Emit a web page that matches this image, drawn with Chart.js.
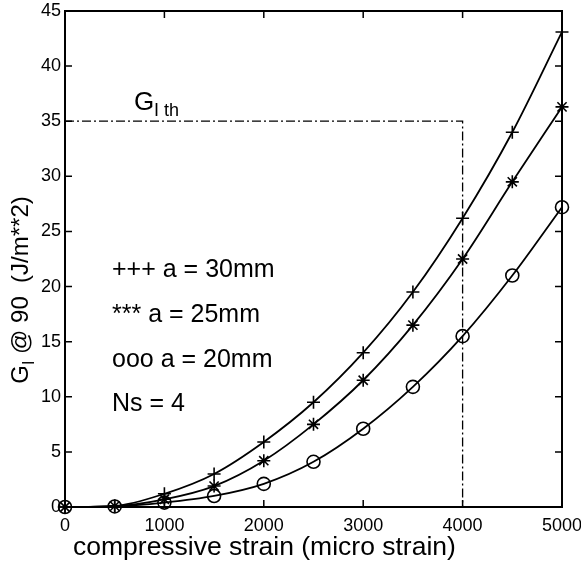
<!DOCTYPE html>
<html>
<head>
<meta charset="utf-8">
<script src="https://cdn.jsdelivr.net/npm/chart.js@4.4.1/dist/chart.umd.min.js"></script>
<style>
  html, body { margin: 0; padding: 0; background: #fff; }
  canvas { display: block; }
</style>
</head>
<body>
<canvas id="chart" width="581" height="564"></canvas>
<script>
// strain values (micro strain) and G_I at 90 for each crack length
const strain = [0, 500, 1000, 1500, 2000, 2500, 3000, 3500, 4000, 4500, 5000];
const gA30 = [0, 0.1, 1.2, 3.0, 5.9, 9.5, 14.0, 19.5, 26.2, 34.0, 43.1];
const gA25 = [0, 0.08, 0.7, 1.9, 4.2, 7.5, 11.5, 16.5, 22.5, 29.5, 36.3];
const gA20 = [0, 0.05, 0.4, 1.0, 2.1, 4.1, 7.1, 10.9, 15.5, 21.0, 27.2];

// threshold line: G_I th = 35 up to 4000 micro strain
const gThreshold = 35;
const strainLimit = 4000;

const noteLines = ['+++ a = 30mm', '*** a = 25mm', 'ooo a = 20mm', 'Ns = 4'];
const xTitle = 'compressive strain (micro strain)';

const FONT = "'Liberation Sans', Arial, Helvetica, sans-serif";
Chart.defaults.color = '#000';
Chart.defaults.font.family = FONT;

function pts(vals) {
    return strain.map((s, i) => ({x: s, y: vals[i]}));
}

function series(vals, style) {
    return {
        data: pts(vals),
        borderColor: '#000',
        borderWidth: 1.8,
        pointStyle: style,
        pointRadius: 6.5,
        pointBorderWidth: 1.6,
        pointBorderColor: '#000',
        pointBackgroundColor: 'rgba(0,0,0,0)',
        tension: 0.4,
        cubicInterpolationMode: 'monotone',
        clip: false
    };
}

// frame with inward ticks on all four sides, like the matlab box
const framePlugin = {
    id: 'frame',
    afterDatasetsDraw(chart) {
        const ctx = chart.ctx;
        const a = chart.chartArea;
        const xs = chart.scales.x, ys = chart.scales.y;
        ctx.save();
        ctx.strokeStyle = '#000';
        ctx.lineWidth = 2;
        ctx.strokeRect(a.left, a.top, a.right - a.left, a.bottom - a.top);
        ctx.lineWidth = 1.5;
        ctx.beginPath();
        ys.ticks.forEach(t => {
            const p = ys.getPixelForValue(t.value);
            ctx.moveTo(a.left, p); ctx.lineTo(a.left + 7, p);
            ctx.moveTo(a.right, p); ctx.lineTo(a.right - 7, p);
        });
        xs.ticks.forEach(t => {
            const p = xs.getPixelForValue(t.value);
            ctx.moveTo(p, a.bottom); ctx.lineTo(p, a.bottom - 7);
            ctx.moveTo(p, a.top); ctx.lineTo(p, a.top + 7);
        });
        ctx.stroke();
        ctx.restore();
    },
    afterDraw(chart) {
        const ctx = chart.ctx;
        ctx.save();
        ctx.fillStyle = '#000';
        ctx.textBaseline = 'middle';
        ctx.textAlign = 'left';
        ctx.font = '25px ' + FONT;
        const ys = [270, 315, 360, 404];
        noteLines.forEach((s, i) => ctx.fillText(s, 112, ys[i]));

        // x title, sits a bit left of centre in the original
        ctx.font = '26.5px ' + FONT;
        ctx.fillText(xTitle, 73, 548);

        // G_I th label
        ctx.textBaseline = 'alphabetic';
        ctx.font = '26px ' + FONT;
        ctx.fillText('G', 134, 110);
        ctx.font = '18px ' + FONT;
        ctx.fillText('I th', 154, 116);

        // rotated y title with subscript
        ctx.translate(28, 290);
        ctx.rotate(-Math.PI / 2);
        ctx.font = '24px ' + FONT;
        const w1 = ctx.measureText('G').width;
        const rest = ' @ 90  (J/m**2)';
        const w3 = ctx.measureText(rest).width;
        ctx.font = '16px ' + FONT;
        const w2 = ctx.measureText('I').width;
        let x = -(w1 + w2 + w3) / 2;
        ctx.font = '24px ' + FONT;
        ctx.fillText('G', x, 0);
        x += w1;
        ctx.font = '16px ' + FONT;
        ctx.fillText('I', x, 6);
        x += w2;
        ctx.font = '24px ' + FONT;
        ctx.fillText(rest, x, 0);
        ctx.restore();
    }
};

new Chart(document.getElementById('chart'), {
    type: 'line',
    data: {
        datasets: [
            series(gA30, 'cross'),
            series(gA25, 'star'),
            series(gA20, 'circle'),
            {
                data: [{x: 0, y: gThreshold}, {x: strainLimit, y: gThreshold}, {x: strainLimit, y: 0}],
                borderColor: '#000',
                borderWidth: 1.3,
                borderDash: [9, 3, 2, 3],
                pointRadius: 0,
                tension: 0
            }
        ]
    },
    options: {
        responsive: false,
        animation: false,
        devicePixelRatio: 1,
        layout: {padding: 0},
        plugins: {legend: {display: false}, tooltip: {enabled: false}},
        scales: {
            x: {
                type: 'linear',
                min: 0, max: 5000,
                grid: {display: false, drawTicks: false},
                border: {display: false},
                ticks: {stepSize: 1000, padding: 8, maxRotation: 0, font: {size: 18}, callback: v => String(v)},
                afterFit(scale) {
                    scale.height = 57;
                    scale.paddingLeft = 0;
                    scale.paddingRight = 19;
                }
            },
            y: {
                min: 0, max: 45,
                grid: {display: false, drawTicks: false},
                border: {display: false},
                ticks: {stepSize: 5, padding: 4, font: {size: 18}, callback: v => String(v)},
                afterFit(scale) {
                    scale.width = 65;
                    scale.paddingTop = 11;
                    scale.paddingBottom = 0;
                }
            }
        }
    },
    plugins: [framePlugin]
});
</script>
</body>
</html>
